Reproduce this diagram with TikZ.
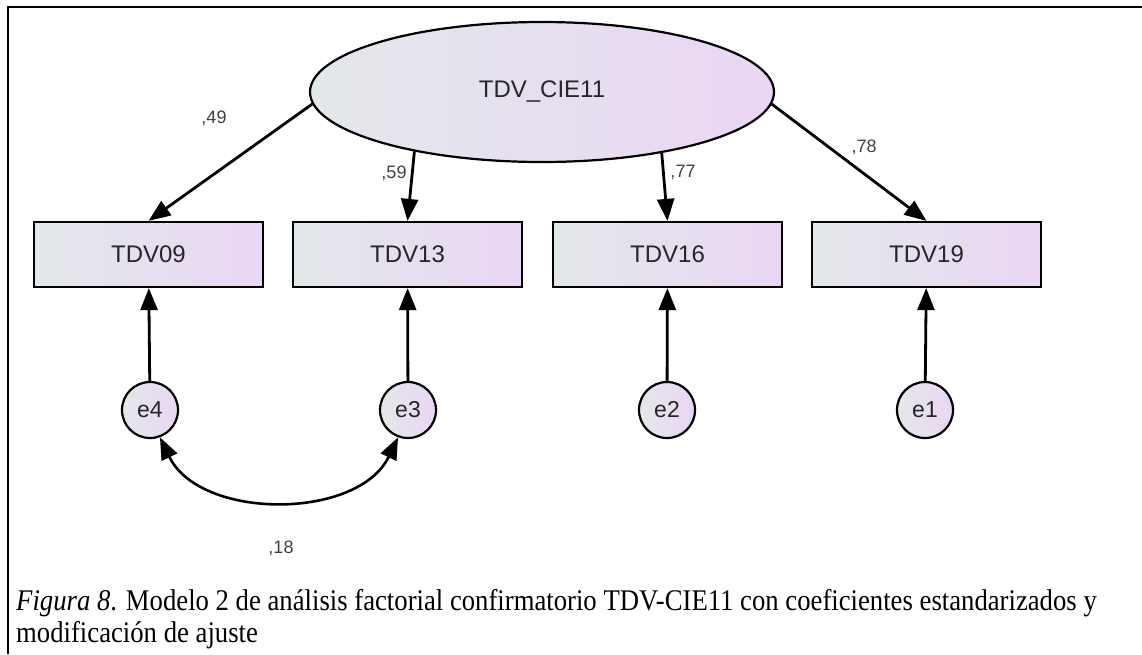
\documentclass[tikz,border=0pt]{standalone}
\usepackage{fontspec}
\setmainfont{Liberation Serif}
\newfontfamily\arialf{Liberation Sans}
\usetikzlibrary{shapes.geometric,arrows.meta}
\definecolor{shL}{HTML}{E3E8EA}
\definecolor{shR}{HTML}{EAD6F4}
\begin{document}
\begin{tikzpicture}[x=1pt,y=-1pt,
  lat/.style={ellipse,draw,line width=2.2pt,minimum width=464pt,minimum height=140pt,inner sep=0pt,left color=shL,right color=shR,font=\arialf\fontsize{24}{28}\selectfont,text=black!85},
  obs/.style={rectangle,draw,line width=2.2pt,minimum width=229pt,minimum height=65pt,inner sep=0pt,left color=shL,right color=shR,font=\arialf\fontsize{24}{28}\selectfont,text=black!85},
  err/.style={circle,draw,line width=2.2pt,minimum size=56pt,inner sep=0pt,left color=shL,right color=shR,font=\arialf\fontsize{23}{28}\selectfont,text=black!85},
  arr/.style={line width=2.8pt,-{Triangle[length=22pt,width=17pt]}},
  dbl/.style={line width=2.6pt,{Triangle[length=22pt,width=17pt]}-{Triangle[length=22pt,width=17pt]}},
  lbl/.style={font=\arialf\fontsize{18}{20}\selectfont,text=black!75,inner sep=0pt},
  captxt/.style={anchor=base west,inner sep=0pt,font=\fontsize{30}{33}\selectfont}]
\useasboundingbox (0,0) rectangle (1142,654);
\draw[line width=2.5pt] (8,654) -- (8,7) -- (1142,7);
\node[lat] (L) at (542,92) {TDV\_CIE11};
\node[obs] (b09) at (148.5,254.5) {TDV09};
\node[obs] (b13) at (407.5,254.5) {TDV13};
\node[obs] (b16) at (667.5,254.5) {TDV16};
\node[obs] (b19) at (926.5,254.5) {TDV19};
\node[err] (e4) at (150,410) {e4};
\node[err] (e3) at (408,410) {e3};
\node[err] (e2) at (667,410) {e2};
\node[err] (e1) at (925,410) {e1};
\draw[arr] (L.183) -- (b09.north);
\draw[arr] (L.205) -- (b13.north);
\draw[arr] (L.333) -- (b16.north);
\draw[arr] (L.357) -- (b19.north);
\draw[arr] (e4) -- (b09);
\draw[arr] (e3) -- (b13);
\draw[arr] (e2) -- (b16);
\draw[arr] (e1) -- (b19);
\draw[dbl] (e4.-70) .. controls +(40,83) and +(-40,83) .. (e3.-110);
\node[lbl] (l49) at (214,118) {,49};
\node[lbl] (l59) at (394,173) {,59};
\node[lbl] (l77) at (683,172) {,77};
\node[lbl] (l78) at (864,147) {,78};
\node[lbl] (l18) at (281,548) {,18};
\node[captxt] (cap1) at (16,610)
  {\scalebox{0.89}[1]{\textit{Figura 8}. Modelo 2 de análisis factorial confirmatorio TDV-CIE11 con coeficientes estandarizados y}};
\node[captxt] (cap2) at (16,642)
  {\scalebox{0.89}[1]{modificación de ajuste}};
\end{tikzpicture}
\end{document}
